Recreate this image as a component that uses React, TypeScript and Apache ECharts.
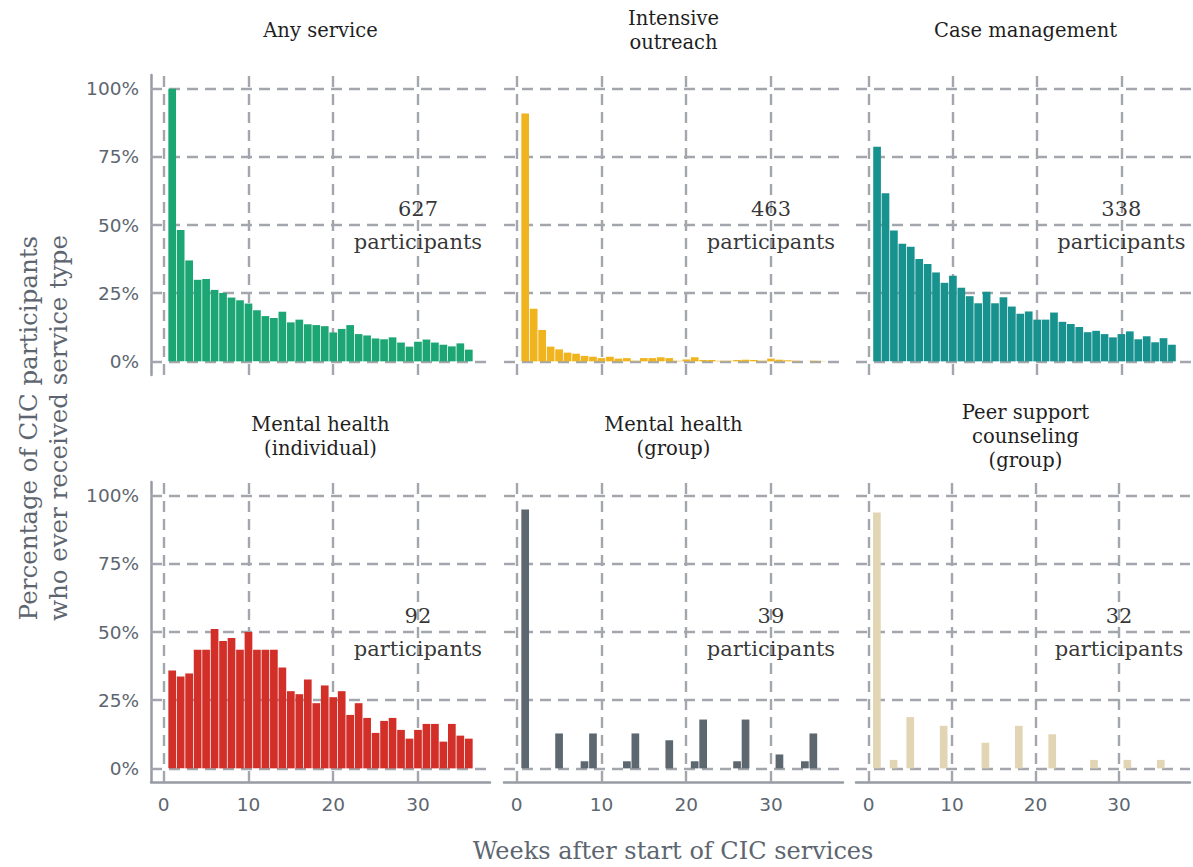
import React, { useEffect, useRef } from "react";
import * as echarts from "echarts";

// ---------- data ----------
const WEEKS = [1, 2, 3, 4, 5, 6, 7, 8, 9, 10, 11, 12, 13, 14, 15, 16, 17, 18, 19, 20, 21, 22, 23, 24, 25, 26, 27, 28, 29, 30, 31, 32, 33, 34, 35, 36];

const anyService = [100, 48.2, 37.0, 29.9, 30.2, 26.2, 25.1, 23.4, 22.4, 21.2, 18.7, 16.6, 15.9, 18.2, 14.3, 15.3, 13.6, 13.3, 12.9, 10.6, 11.9, 13.3, 10.0, 9.5, 8.4, 8.1, 8.8, 6.9, 5.4, 7.2, 8.0, 6.9, 6.1, 5.5, 6.6, 4.3];
const intensiveOutreach = [90.9, 19.3, 11.5, 5.4, 4.4, 3.2, 2.8, 2.0, 1.7, 1.2, 1.7, 1.0, 1.2, 0.2, 1.2, 1.2, 1.5, 1.2, 0.2, 0.7, 1.5, 0.5, 0.5, 0.2, 0.2, 0.5, 0.6, 0.5, 0.2, 1.0, 0.6, 0.4, 0.2, 0, 0.2, 0.1];
const caseManagement = [78.7, 61.6, 48.0, 43.1, 42.0, 37.5, 35.7, 32.6, 28.8, 31.4, 27.0, 23.9, 21.3, 25.5, 21.3, 23.5, 20.1, 17.5, 18.3, 15.3, 15.3, 17.9, 14.5, 13.7, 12.6, 10.7, 11.2, 10.0, 8.8, 10.0, 11.0, 8.1, 9.2, 7.0, 8.5, 6.1];
const mentalIndividual = [35.9, 33.7, 34.8, 43.5, 43.5, 51.1, 46.7, 47.8, 43.5, 50.0, 43.5, 43.5, 43.5, 37.0, 28.3, 27.2, 32.6, 23.9, 30.4, 26.1, 28.3, 19.6, 23.9, 18.5, 13.0, 17.4, 18.5, 14.1, 10.9, 14.1, 16.3, 16.3, 9.8, 16.3, 12.0, 10.9];

const mentalGroupWeeks = [1, 5, 8, 9, 13, 14, 18, 21, 22, 26, 27, 31, 34, 35];
const mentalGroup = [94.9, 12.8, 2.6, 12.8, 2.6, 12.8, 10.3, 2.6, 17.9, 2.6, 17.9, 5.1, 2.6, 12.8];

const peerWeeks = [1, 3, 5, 9, 14, 18, 22, 27, 31, 35];
const peerSupport = [93.8, 3.1, 18.8, 15.6, 9.4, 15.6, 12.5, 3.1, 3.1, 3.1];

const PANEL_TITLES = [
  "Any service",
  "Intensive\noutreach",
  "Case management",
  "Mental health\n(individual)",
  "Mental health\n(group)",
  "Peer support\ncounseling\n(group)",
];
const PARTICIPANTS = [627, 463, 338, 92, 39, 32];
const PANEL_WEEKS = [WEEKS, WEEKS, WEEKS, WEEKS, mentalGroupWeeks, peerWeeks];
const PANEL_VALUES = [anyService, intensiveOutreach, caseManagement, mentalIndividual, mentalGroup, peerSupport];
const PANEL_COLORS = ["#1ba673", "#f0b41e", "#17928f", "#d22f28", "#5c6770", "#e2d5b3"];

const X_GRID = [0, 10, 20, 30];
const Y_GRID = [0, 25, 50, 75, 100];
const LABEL_POS = [30, 50];

// ---------- layout / style ----------
const COL_LEFT = [151, 504, 856];
const ROW_TOP = [75, 482];
const GRID_W = 339;
const GRID_H = 300;
const AXIS_COLOR = "#979ba2";
const GRID_COLOR = "#a3a6ac";
const TICK_COLOR = "#5d6670";
const SERIF = '"DejaVu Serif", serif';
const SANS = '"DejaVu Sans", sans-serif';

export default function App() {
  const ref = useRef<HTMLDivElement>(null);

  useEffect(() => {
    if (!ref.current) return;
    const chart = echarts.init(ref.current, null, { renderer: "svg" });

    const grids: any[] = [];
    const xAxes: any[] = [];
    const yAxes: any[] = [];
    const series: any[] = [];
    const graphics: any[] = [];

    for (let i = 0; i < 6; i++) {
      const row = Math.floor(i / 3);
      const col = i % 3;
      grids.push({ left: COL_LEFT[col], top: ROW_TOP[row], width: GRID_W, height: GRID_H });
      xAxes.push({
        gridIndex: i,
        type: "value",
        min: -1.5,
        max: 38.5,
        interval: 0.5,
        axisLine: { show: row === 1, onZero: false, lineStyle: { color: AXIS_COLOR, width: 2.5 } },
        axisTick: { show: false },
        splitLine: { show: false },
        axisLabel: {
          show: row === 1,
          margin: 13,
          fontFamily: SANS,
          fontSize: 18.5,
          color: TICK_COLOR,
          formatter: (v: number) => {
            const r = Math.round(v);
            return Math.abs(v - r) < 1e-6 && r >= 0 && r % 10 === 0 ? String(r) : "";
          },
        },
      });
      yAxes.push({
        gridIndex: i,
        type: "value",
        min: -5,
        max: 105,
        interval: 5,
        axisLine: { show: col === 0, onZero: false, lineStyle: { color: AXIS_COLOR, width: 2.5 } },
        axisTick: { show: false },
        splitLine: { show: false },
        axisLabel: {
          show: col === 0,
          margin: 12,
          fontFamily: SANS,
          fontSize: 18.5,
          color: TICK_COLOR,
          formatter: (v: number) => {
            const r = Math.round(v);
            return Math.abs(v - r) < 1e-6 && r >= 0 && r % 25 === 0 ? r + "%" : "";
          },
        },
      });

      // gridlines (behind bars)
      series.push({
        type: "line",
        xAxisIndex: i,
        yAxisIndex: i,
        data: [[0, 0]],
        symbol: "none",
        showSymbol: false,
        lineStyle: { opacity: 0 },
        silent: true,
        z: 1,
        markLine: {
          silent: true,
          symbol: ["none", "none"],
          label: { show: false },
          emphasis: { disabled: true },
          lineStyle: { type: [11, 7], color: GRID_COLOR, width: 2.4 },
          data: [
            ...X_GRID.map((v) => ({ xAxis: v })),
            ...Y_GRID.map((v) => ({ yAxis: v })),
          ],
        },
      });

      // bars
      series.push({
        type: "bar",
        xAxisIndex: i,
        yAxisIndex: i,
        barWidth: 7.7,
        silent: true,
        z: 10,
        itemStyle: { color: PANEL_COLORS[i] },
        data: PANEL_WEEKS[i].map((w, k) => [w, PANEL_VALUES[i][k]]),
      });

      // participants label
      series.push({
        type: "scatter",
        xAxisIndex: i,
        yAxisIndex: i,
        symbolSize: 1,
        silent: true,
        z: 12,
        itemStyle: { color: "transparent" },
        label: {
          show: true,
          position: "inside",
          formatter: PARTICIPANTS[i] + "\nparticipants",
          fontFamily: SERIF,
          fontSize: 21,
          lineHeight: 33,
          color: "#000000",
          align: "center",
          verticalAlign: "middle",
        },
        data: [LABEL_POS],
      });

      // panel title
      graphics.push({
        type: "text",
        x: COL_LEFT[col] + GRID_W / 2,
        y: row === 0 ? 30 : 436,
        silent: true,
        style: {
          text: PANEL_TITLES[i],
          font: `19.5px ${SERIF}`,
          fill: "#1e1e1e",
          align: "center",
          verticalAlign: "middle",
          textAlign: "center",
          textVerticalAlign: "middle",
          lineHeight: 24,
        },
      });
    }

    // axis titles
    graphics.push({
      type: "text",
      x: (COL_LEFT[0] + COL_LEFT[2] + GRID_W) / 2,
      y: 851,
      silent: true,
      style: {
        text: "Weeks after start of CIC services",
        font: `24px ${SERIF}`,
        fill: TICK_COLOR,
        align: "center",
        verticalAlign: "middle",
        textAlign: "center",
        textVerticalAlign: "middle",
      },
    });
    graphics.push({
      type: "text",
      x: 43,
      y: 428,
      rotation: Math.PI / 2,
      silent: true,
      style: {
        text: "Percentage of CIC participants\nwho ever received service type",
        font: `24.5px ${SERIF}`,
        fill: TICK_COLOR,
        align: "center",
        verticalAlign: "middle",
        textAlign: "center",
        textVerticalAlign: "middle",
        lineHeight: 30,
      },
    });

    chart.setOption({
      animation: false,
      backgroundColor: "#ffffff",
      grid: grids,
      xAxis: xAxes,
      yAxis: yAxes,
      series,
      graphic: graphics,
    });

    return () => chart.dispose();
  }, []);

  return (
    <div
      ref={ref}
      style={{ position: "fixed", left: 0, top: 0, width: 1193, height: 867, background: "#fff" }}
    />
  );
}
